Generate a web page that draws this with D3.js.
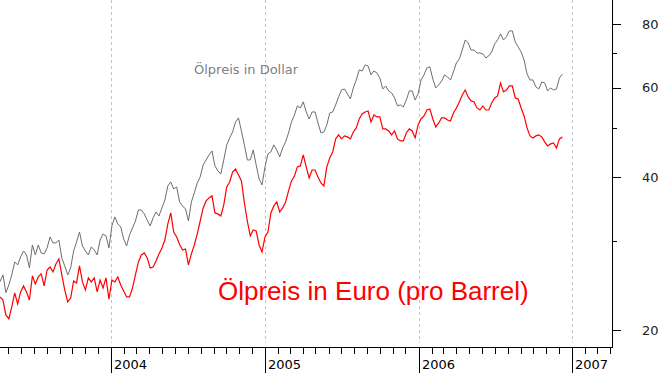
<!DOCTYPE html>
<html>
<head>
<meta charset="utf-8">
<script src="https://cdn.jsdelivr.net/npm/d3@7"></script>
<style>
  html, body { margin: 0; padding: 0; background: #fff; }
  svg { display: block; font-family: "DejaVu Sans", Verdana, sans-serif; }
</style>
</head>
<body>
<div id="chart"></div>
<script>
// Weekly closes, first week starting 12 Apr 2003
const START = new Date(2003, 3, 12)

const DOLLAR = [
  24.90, 25.67, 23.68, 24.53, 25.67, 27.22, 26.86, 27.84, 28.61, 28.10,
  26.49, 29.40, 28.10, 29.40, 28.36, 28.23, 29.01, 30.49, 29.67, 29.67,
  30.07, 27.72, 26.73, 25.67, 26.49, 28.61, 29.80, 31.18, 29.27, 28.61,
  28.10, 29.14, 28.74, 28.10, 30.07, 30.90, 30.63, 29.01, 32.04, 33.38,
  32.34, 31.90, 30.21, 29.27, 30.76, 31.75, 32.77, 34.45, 34.45, 33.84,
  32.92, 32.04, 33.23, 34.14, 33.53, 34.77, 36.05, 38.42, 39.11, 37.89,
  38.24, 35.73, 35.09, 34.61, 32.77, 35.73, 37.22, 38.94, 40.01, 42.25,
  43.21, 44.21, 45.01, 42.06, 41.11, 40.56, 43.21, 46.26, 47.75, 49.06,
  51.33, 52.27, 49.28, 46.26, 43.21, 43.21, 45.21, 42.25, 39.64, 38.59,
  41.87, 44.41, 44.81, 46.26, 45.21, 43.81, 45.63, 46.89, 48.84, 51.33,
  52.99, 55.20, 54.69, 56.21, 53.71, 52.03, 53.71, 53.71, 51.10, 48.84,
  49.06, 50.65, 53.47, 53.71, 55.45, 57.50, 59.33, 59.60, 58.28, 56.97,
  59.88, 62.08, 64.96, 64.67, 66.47, 66.16, 63.52, 64.67, 64.10, 62.66,
  59.60, 60.43, 59.07, 58.54, 57.23, 55.20, 55.45, 54.95, 56.71, 59.07,
  59.07, 56.71, 58.28, 62.08, 63.52, 65.57, 65.87, 62.37, 59.88, 60.71,
  61.80, 63.52, 62.94, 62.08, 64.38, 67.07, 68.28, 71.12, 74.42, 73.43,
  71.12, 71.12, 70.18, 70.18, 69.86, 68.60, 69.23, 70.49, 73.10, 74.42,
  76.49, 74.42, 75.46, 77.53, 77.53, 73.76, 72.11, 70.49, 67.97, 63.81,
  62.08, 62.08, 60.16, 59.60, 61.53, 61.26, 59.07, 59.88, 59.33, 59.60,
  62.66, 63.81
]

const EURO = [
  23.23, 22.91, 21.41, 21.03, 22.20, 23.65, 22.51, 23.76, 24.42, 23.76,
  22.91, 25.55, 24.64, 25.44, 25.79, 24.42, 26.25, 26.61, 26.02, 26.98,
  27.59, 25.67, 23.97, 22.71, 23.12, 24.98, 24.75, 26.73, 24.87, 23.97,
  25.32, 24.87, 25.32, 23.76, 25.09, 24.19, 25.32, 23.01, 25.09, 24.87,
  25.44, 24.53, 23.86, 23.23, 23.23, 24.19, 25.67, 27.22, 28.10, 28.36,
  27.72, 26.49, 26.61, 27.34, 28.23, 29.01, 30.07, 32.34, 33.99, 31.18,
  30.49, 29.47, 28.74, 28.87, 26.86, 28.23, 29.40, 30.90, 32.77, 34.77,
  35.89, 36.38, 36.72, 33.99, 33.84, 33.53, 35.25, 38.24, 39.11, 40.92,
  41.48, 40.38, 39.29, 35.57, 32.77, 30.63, 31.46, 31.32, 29.40, 28.48,
  30.49, 31.18, 33.99, 35.09, 35.73, 34.14, 34.77, 35.73, 37.55, 39.29,
  40.19, 41.87, 42.06, 44.21, 41.87, 39.82, 41.29, 41.29, 40.01, 38.94,
  38.42, 41.87, 43.61, 44.81, 47.53, 48.41, 47.53, 48.19, 47.97, 47.53,
  49.06, 49.96, 52.03, 53.23, 53.71, 53.95, 51.33, 52.99, 52.51, 52.51,
  49.73, 49.73, 49.28, 48.41, 49.28, 47.53, 47.10, 47.10, 48.84, 49.73,
  49.28, 47.75, 50.65, 52.03, 52.75, 54.19, 54.44, 52.03, 50.19, 51.10,
  52.27, 52.27, 51.79, 51.56, 53.47, 54.69, 56.21, 58.02, 59.33, 57.50,
  56.46, 56.21, 54.69, 54.19, 55.20, 54.19, 54.19, 55.95, 57.23, 57.76,
  61.25, 58.81, 59.33, 60.43, 60.43, 57.23, 56.97, 54.69, 52.75, 49.96,
  48.19, 47.75, 48.19, 48.41, 47.97, 46.89, 46.05, 46.47, 46.68, 45.63,
  47.53, 47.97
]

const Y_MAJOR = [20, 40, 60, 80]
const Y_MINOR = [30, 50, 70]
const YEARS = [2004, 2005, 2006, 2007]

const width = 663
const height = 373
const plotRight = 612
const plotBottom = 347

const dates = DOLLAR.map((_, i) => d3.timeDay.offset(START, i * 7))

const x = d3.scaleTime()
  .domain([START, new Date(2007, 3, 6)])
  .range([0, plotRight])

// log scale pinned so 20 sits at y=330 and 80 at y=24
const y = d3.scaleLog()
  .domain([20, 80])
  .range([330, 24])

const svg = d3.select("#chart")
  .append("svg")
  .attr("width", width)
  .attr("height", height)

// Year gridlines
svg.selectAll(".grid")
  .data(YEARS)
  .enter()
  .append("line")
  .attr("class", "grid")
  .attr("x1", d => Math.round(x(new Date(d, 0, 1))) + 0.5)
  .attr("x2", d => Math.round(x(new Date(d, 0, 1))) + 0.5)
  .attr("y1", 0)
  .attr("y2", plotBottom - 4)
  .attr("stroke", "#c4c4c4")
  .attr("stroke-dasharray", "3,3")

svg.append("clipPath")
  .attr("id", "plot")
  .append("rect")
  .attr("width", plotRight)
  .attr("height", plotBottom)

const line = d3.line()
  .x((_, i) => x(dates[i]))
  .y(d => y(d))

svg.append("path")
  .datum(DOLLAR)
  .attr("clip-path", "url(#plot)")
  .attr("fill", "none")
  .attr("stroke", "#6e6e6e")
  .attr("stroke-width", 1)
  .attr("d", line)

svg.append("path")
  .datum(EURO)
  .attr("clip-path", "url(#plot)")
  .attr("fill", "none")
  .attr("stroke", "#ff0000")
  .attr("stroke-width", 1.2)
  .attr("d", line)

// Bottom axis: month ticks short, year ticks long
const axisG = svg.append("g").attr("shape-rendering", "crispEdges")

axisG.append("line")
  .attr("x1", 0).attr("x2", plotRight + 0.5)
  .attr("y1", plotBottom + 0.5).attr("y2", plotBottom + 0.5)
  .attr("stroke", "#000")

const months = d3.timeMonth.range(d3.timeMonth.ceil(START), x.domain()[1])
axisG.selectAll(".mtick")
  .data(months)
  .enter()
  .append("line")
  .attr("x1", d => Math.round(x(d)) + 0.5)
  .attr("x2", d => Math.round(x(d)) + 0.5)
  .attr("y1", plotBottom)
  .attr("y2", d => d.getMonth() === 0 ? height : plotBottom + 7)
  .attr("stroke", "#000")

svg.selectAll(".year-label")
  .data(YEARS)
  .enter()
  .append("text")
  .attr("x", d => Math.round(x(new Date(d, 0, 1))) + 3)
  .attr("y", 369)
  .attr("font-size", "13px")
  .attr("fill", "#000")
  .text(d => d)

// Right axis
axisG.append("line")
  .attr("x1", plotRight + 0.5).attr("x2", plotRight + 0.5)
  .attr("y1", 0).attr("y2", plotBottom + 0.5)
  .attr("stroke", "#000")

axisG.selectAll(".ymaj")
  .data(Y_MAJOR)
  .enter()
  .append("line")
  .attr("x1", plotRight).attr("x2", plotRight + 9)
  .attr("y1", d => Math.round(y(d)) + 0.5)
  .attr("y2", d => Math.round(y(d)) + 0.5)
  .attr("stroke", "#000")

axisG.selectAll(".ymin")
  .data(Y_MINOR)
  .enter()
  .append("line")
  .attr("x1", plotRight).attr("x2", plotRight + 5)
  .attr("y1", d => Math.round(y(d)) + 0.5)
  .attr("y2", d => Math.round(y(d)) + 0.5)
  .attr("stroke", "#000")

svg.selectAll(".y-label")
  .data(Y_MAJOR)
  .enter()
  .append("text")
  .attr("x", 642)
  .attr("y", d => y(d))
  .attr("dy", "0.36em")
  .attr("font-size", "13px")
  .attr("fill", "#222")
  .text(d => d)

// Series labels
svg.append("text")
  .attr("x", 194)
  .attr("y", 74)
  .attr("font-size", "13px")
  .attr("fill", "#808080")
  .text("Ölpreis in Dollar")

svg.append("text")
  .attr("x", 218)
  .attr("y", 300)
  .attr("font-family", "Arial, 'Liberation Sans', sans-serif")
  .attr("font-size", "26px")
  .attr("fill", "#ff0000")
  .text("Ölpreis in Euro (pro Barrel)")
</script>
</body>
</html>
